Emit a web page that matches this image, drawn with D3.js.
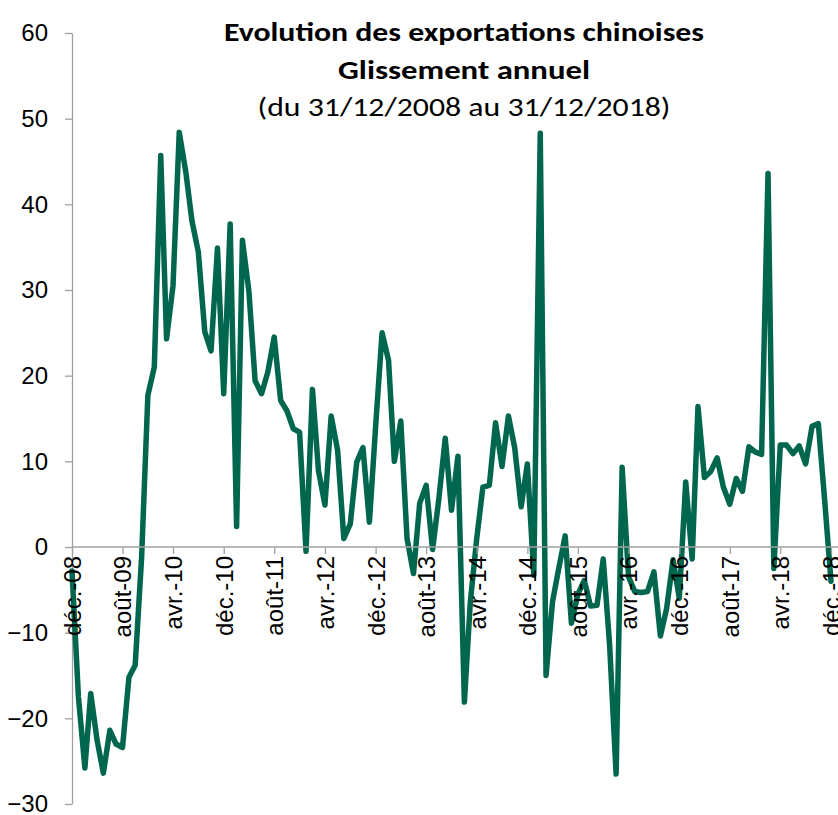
<!DOCTYPE html>
<html><head><meta charset="utf-8">
<script src="https://cdn.jsdelivr.net/npm/d3@7"></script>
<style>body{margin:0;background:#fff}</style>
</head><body>
<svg id="c" width="838" height="815"></svg>
<script>
// Chinese exports, year-on-year change (%), monthly, Dec 2008 - Dec 2018
const values = [
  -2.8,
  -17.5, -25.8, -17.1, -22.6, -26.4, -21.4, -23.0, -23.4, -15.2, -13.8, -1.2, 17.7,
  21.0, 45.7, 24.3, 30.5, 48.4, 43.9, 38.1, 34.4, 25.1, 22.9, 34.9, 17.9,
  37.7, 2.4, 35.8, 29.9, 19.4, 17.9, 20.4, 24.5, 17.1, 15.9, 13.8, 13.4,
  -0.5, 18.4, 8.9, 4.9, 15.3, 11.3, 1.0, 2.7, 9.9, 11.6, 2.9, 14.1,
  25.0, 21.8, 10.0, 14.7, 1.0, -3.1, 5.1, 7.2, -0.3, 5.6, 12.7, 4.3,
  10.6, -18.1, -6.6, 0.9, 7.0, 7.2, 14.5, 9.4, 15.3, 11.6, 4.7, 9.7,
  -3.3, 48.3, -15.0, -6.4, -2.5, 1.3, -8.9, -5.5, -3.9, -6.9, -6.8, -1.4,
  -11.5, -26.5, 9.3, -3.5, -5.2, -5.3, -5.2, -2.9, -10.4, -7.2, -1.5, -6.0,
  7.6, -1.4, 16.4, 8.1, 8.8, 10.4, 7.0, 5.0, 8.0, 6.5, 11.7, 11.1,
  10.8, 43.6, -2.5, 11.9, 11.9, 10.9, 11.8, 9.7, 14.1, 14.4, 5.3, -4.0
];
const tickLabels = ["déc.-08","août-09","avr.-10","déc.-10","août-11","avr.-12","déc.-12","août-13",
                    "avr.-14","déc.-14","août-15","avr.-16","déc.-16","août-17","avr.-18","déc.-18"];
const yTicks = [60, 50, 40, 30, 20, 10, 0, -10, -20, -30];
const titleLines = ["Evolution des exportations chinoises", "Glissement annuel", "(du 31/12/2008 au 31/12/2018)"];

const start = new Date(2008, 11, 1);
const months = values.map((v, i) => d3.timeMonth.offset(start, i));
const tickDates = tickLabels.map((t, i) => d3.timeMonth.offset(start, i * 8));

const svg = d3.select("#c");
const x = d3.scaleTime().domain([months[0], months[months.length - 1]]).range([72, 831]);
const y = d3.scaleLinear().domain([-30, 60]).range([804, 33]);
const axisColor = "#a0a0a0";
const labelFont = "'Liberation Sans', Arial, sans-serif";

// Y axis
const gy = svg.append("g").attr("transform", "translate(72,0)")
  .call(d3.axisLeft(y).tickValues(yTicks).tickSize(7).tickPadding(17).tickSizeOuter(0));
gy.select(".domain").attr("stroke", axisColor).attr("stroke-width", 1.3);
gy.selectAll(".tick line").attr("stroke", axisColor).attr("stroke-width", 1.3);
gy.selectAll(".tick text").attr("font-family", labelFont)
  .attr("font-size", 24).attr("fill", "#000");

// X axis at zero
const gx = svg.append("g").attr("transform", `translate(0,${y(0)})`)
  .call(d3.axisBottom(x).tickValues(tickDates).tickFormat((d, i) => tickLabels[i]).tickSize(7).tickSizeOuter(0));
gx.select(".domain").remove();
gx.insert("line", ":first-child").attr("x1", 72).attr("x2", 838).attr("y1", 0).attr("y2", 0)
  .attr("stroke", axisColor).attr("stroke-width", 1.3);
gx.selectAll(".tick line").attr("stroke", axisColor).attr("stroke-width", 1.3);

// Series line
const line = d3.line().x((d, i) => x(months[i])).y(d => y(d));
svg.append("path").datum(values)
  .attr("d", line)
  .attr("fill", "none")
  .attr("stroke", "#00664e")
  .attr("stroke-width", 5.5)
  .attr("stroke-linejoin", "round")
  .attr("stroke-linecap", "round");

// X labels on top
gx.raise();
gx.selectAll(".tick text")
  .attr("font-family", labelFont)
  .attr("font-size", 24).attr("fill", "#000")
  .attr("transform", "rotate(-90)")
  .attr("text-anchor", "end")
  .attr("x", -9).attr("y", 0).attr("dy", "0.35em");

// Title
const tcx = 464;
const tspec = [
  {y: 41, size: 27, weight: "bold", w: 480},
  {y: 79, size: 27, weight: "bold", w: 252},
  {y: 116, size: 27, weight: "normal", w: 413}
];
titleLines.forEach((t, i) => {
  svg.append("text").attr("x", tcx).attr("y", tspec[i].y)
    .attr("text-anchor", "middle")
    .attr("font-family", "Carlito, Lato, 'Open Sans', sans-serif")
    .attr("font-size", tspec[i].size).attr("font-weight", tspec[i].weight)
    .attr("textLength", tspec[i].w).attr("lengthAdjust", "spacingAndGlyphs")
    .attr("fill", "#000").text(t);
});
</script>
</body></html>
